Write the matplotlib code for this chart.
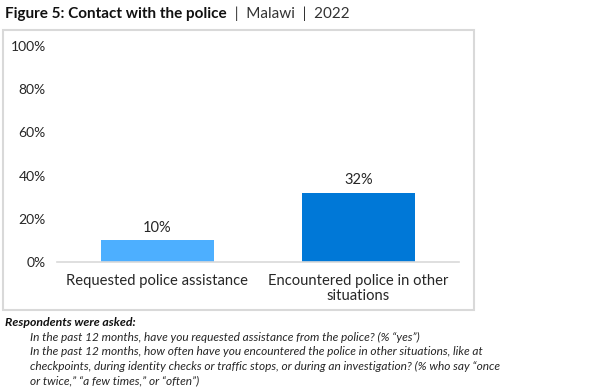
import matplotlib.pyplot as plt
from matplotlib.patches import Rectangle

categories = ["Requested police assistance", "Encountered police in other\nsituations"]
values = [10, 32]
bar_colors = ["#4DAFFF", "#0078D7"]
yticks = [0, 20, 40, 60, 80, 100]
ytick_labels = [f"{t}%" for t in yticks]

title_bold = "Figure 5: Contact with the police"
title_rest = "  |  Malawi  |  2022"
note_head = "Respondents were asked:"
note_lines = [
    "In the past 12 months, have you requested assistance from the police? (% \u201cyes\u201d)",
    "In the past 12 months, how often have you encountered the police in other situations, like at",
    "checkpoints, during identity checks or traffic stops, or during an investigation? (% who say \u201conce",
    "or twice,\u201d \u201ca few times,\u201d or \u201coften\u201d)",
]

plt.rcParams["font.family"] = ["Lato", "DejaVu Sans"]
text_color = "#262626"

fig = plt.figure(figsize=(6.02, 3.92), dpi=100)
W, H = 602, 392

# chart frame
fig.patches.append(Rectangle((3 / W, 1 - 310 / H), 471 / W, 280 / H,
                             transform=fig.transFigure, fill=False,
                             edgecolor="#D9D9D9", linewidth=1.5))

ax = fig.add_axes([57 / W, 1 - 262 / H, 402 / W, 216 / H])
x = range(len(categories))
bars = ax.bar(x, values, width=0.56, color=bar_colors)
ax.set_xlim(-0.5, 1.5)
ax.set_ylim(0, 100)
ax.set_yticks(yticks)
ax.set_yticklabels(ytick_labels, fontsize=10, color=text_color)
ax.set_xticks(list(x))
ax.set_xticklabels(categories, fontsize=10.6, color=text_color, linespacing=1.05)
ax.tick_params(axis="y", length=0, pad=8)
ax.tick_params(axis="x", length=0, pad=9)
for s in ["top", "right", "left"]:
    ax.spines[s].set_visible(False)
ax.spines["bottom"].set_color("#D9D9D9")
ax.spines["bottom"].set_linewidth(1.2)

for b, v in zip(bars, values):
    ax.text(b.get_x() + b.get_width() / 2, v + 2.5, f"{v}%", ha="center",
            va="bottom", fontsize=10.5, color=text_color)

# title
t = fig.text(5 / W, 1 - 14 / H, title_bold, fontsize=11, fontweight="bold",
             color="#111111", va="center")
fig.canvas.draw()
bb = t.get_window_extent()
fig.text(bb.x1 / W, 1 - 14 / H, title_rest, fontsize=11, color="#333333",
         va="center")

# notes
fig.text(5 / W, 1 - 322 / H, note_head, fontsize=8.8, fontweight="bold",
         fontstyle="italic", color="#111111", va="center")
for i, line in enumerate(note_lines):
    fig.text(30 / W, 1 - (337 + i * 14.5) / H, line, fontsize=8.6,
             fontstyle="italic", color="#262626", va="center")

fig.savefig("out.png", dpi=100)
